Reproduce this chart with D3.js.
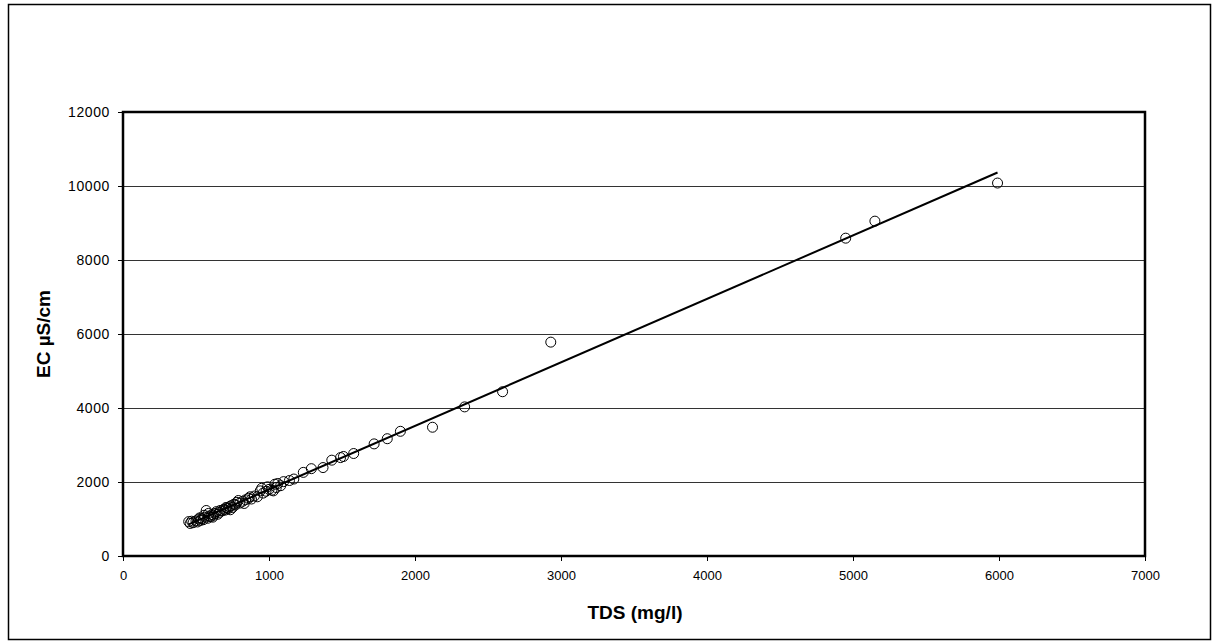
<!DOCTYPE html>
<html>
<head>
<meta charset="utf-8">
<script src="https://cdn.jsdelivr.net/npm/d3@7"></script>
<style>
    body { margin: 0; background: #fff; }
    svg text { font-family: "Liberation Sans", Arial, sans-serif; }
</style>
</head>
<body>
<div id="chart"></div>
<script>
// TDS (mg/l) readings
const tds = [
    450, 460, 480, 500, 510, 520, 530, 540, 550, 560,
    570, 580, 590, 600, 610, 620, 630, 640, 650, 660,
    680, 690, 700, 710, 720, 730, 740, 750, 760, 770,
    790, 800, 820, 840, 860, 880, 900, 920, 940, 950,
    960, 980, 1000, 1020, 1040, 1050, 1080, 1100, 1140, 1170,
    470, 525, 555, 585, 615, 665, 705, 735, 780, 830,
    870, 990, 1030, 1060,
    1235, 1290, 1370, 1430, 1490, 1510, 1580, 1720, 1810, 1900,
    2120, 2340, 2600, 2930, 4950, 5150, 5990
];
// EC (µS/cm) readings, same order
const ec = [
    930, 880, 900, 950, 920, 1000, 960, 1010, 980, 1050,
    1230, 1020, 1080, 1060, 1120, 1100, 1150, 1200, 1130, 1180,
    1220, 1260, 1240, 1300, 1280, 1330, 1360, 1310, 1400, 1380,
    1500, 1430, 1480, 1520, 1560, 1540, 1620, 1600, 1760, 1830,
    1700, 1750, 1800, 1780, 1940, 1850, 1900, 2010, 2040, 2080,
    940, 1030, 1100, 1150, 1050, 1230, 1310, 1250, 1450, 1420,
    1600, 1870, 1760, 1960,
    2260, 2360, 2390, 2590, 2660, 2690, 2770, 3030, 3170, 3370,
    3480, 4030, 4440, 5780, 8590, 9050, 10080
];
const xTicks = [0, 1000, 2000, 3000, 4000, 5000, 6000, 7000];
const yTicks = [0, 2000, 4000, 6000, 8000, 10000, 12000];

const W = 1213, H = 641;
const margin = { left: 123, right: 68, top: 112, bottom: 85 };
const width = W - margin.left - margin.right;
const height = H - margin.top - margin.bottom;

const svg = d3.select("#chart").append("svg")
    .attr("width", W)
    .attr("height", H);

// outer frame
svg.append("rect")
    .attr("x", 8.5).attr("y", 4.5)
    .attr("width", 1202).attr("height", 635)
    .attr("fill", "none")
    .attr("stroke", "#000")
    .attr("stroke-width", 1.5);

const g = svg.append("g")
    .attr("transform", `translate(${margin.left},${margin.top})`);

const x = d3.scaleLinear().domain([0, 7000]).range([0, width]);
const y = d3.scaleLinear().domain([0, 12000]).range([height, 0]);

// gridlines
g.selectAll(".grid").data(yTicks.slice(1, -1)).enter()
    .append("line")
    .attr("class", "grid")
    .attr("x1", 0).attr("x2", width)
    .attr("y1", d => Math.round(y(d)) + 0.5)
    .attr("y2", d => Math.round(y(d)) + 0.5)
    .attr("stroke", "#333")
    .attr("stroke-width", 1.2);

// axes
const xAxis = g.append("g")
    .attr("transform", `translate(0,${height})`)
    .call(d3.axisBottom(x).tickValues(xTicks).tickSize(5).tickSizeOuter(0).tickPadding(10).tickFormat(d3.format("d")));
const yAxis = g.append("g")
    .call(d3.axisLeft(y).tickValues(yTicks).tickSize(5).tickSizeOuter(0).tickPadding(8).tickFormat(d3.format("d")));
[xAxis, yAxis].forEach(a => {
    a.select(".domain").remove();
    a.selectAll("text").attr("font-size", "13px").attr("fill", "#000")
        .style("font-family", "'Liberation Sans', Arial, sans-serif");
    a.selectAll("line").attr("stroke", "#000");
});
yAxis.selectAll("text").attr("font-size", "14px").style("letter-spacing", "0.6px");

// plot border
g.append("rect")
    .attr("x", 0).attr("y", 0)
    .attr("width", width).attr("height", height)
    .attr("fill", "none")
    .attr("stroke", "#000")
    .attr("stroke-width", 2.5);

// linear trend line (least squares)
const n = tds.length;
const mx = d3.mean(tds), my = d3.mean(ec);
let sxy = 0, sxx = 0;
for (let i = 0; i < n; i++) {
    sxy += (tds[i] - mx) * (ec[i] - my);
    sxx += (tds[i] - mx) * (tds[i] - mx);
}
const slope = sxy / sxx;
const icpt = my - slope * mx;
const xr = d3.extent(tds);

// points
const pts = tds.map((t, i) => ({ tds: t, ec: ec[i] }));
g.selectAll("circle").data(pts).enter()
    .append("circle")
    .attr("cx", d => x(d.tds))
    .attr("cy", d => y(d.ec))
    .attr("r", 5)
    .attr("fill", "none")
    .attr("stroke", "#000")
    .attr("stroke-width", 1);

g.append("line")
    .attr("x1", x(xr[0])).attr("y1", y(slope * xr[0] + icpt))
    .attr("x2", x(xr[1])).attr("y2", y(slope * xr[1] + icpt))
    .attr("stroke", "#000")
    .attr("stroke-width", 2);

// axis titles
svg.append("text")
    .attr("x", 635).attr("y", 619)
    .attr("text-anchor", "middle")
    .attr("font-size", "19px")
    .attr("font-weight", "bold")
    .text("TDS (mg/l)");
svg.append("text")
    .attr("transform", "translate(50,334) rotate(-90)")
    .attr("text-anchor", "middle")
    .attr("font-size", "19px")
    .attr("font-weight", "bold")
    .text("EC µS/cm");
</script>
</body>
</html>
